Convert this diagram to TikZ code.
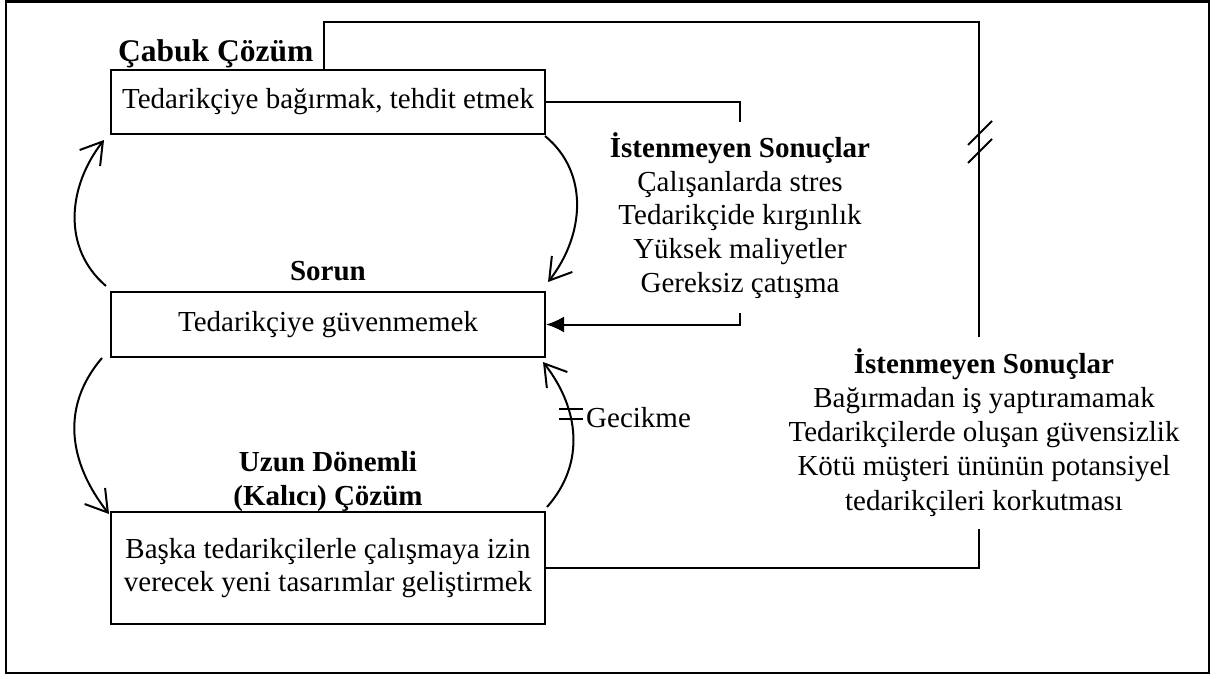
\documentclass[tikz,border=0pt]{standalone}
\usepackage{fontspec}
\setmainfont{Liberation Serif}
\usetikzlibrary{arrows.meta}
\begin{document}
\begin{tikzpicture}[x=1pt,y=-1pt,
  every node/.style={font=\fontsize{29}{33.75}\selectfont, inner sep=0pt},
  box/.style={draw, line width=2pt, minimum width=434pt, align=center},
  ttl/.style={font=\fontsize{29}{33.75}\selectfont\bfseries, anchor=base},
  lst/.style={anchor=base},
  ln/.style={line width=2pt},
  cyc/.style={line width=2pt, -{Straight Barb[length=21pt,width=26pt]}},
  tri/.style={line width=2pt, -{Latex[length=18pt,width=16pt]}}
]
\useasboundingbox (0,0) rectangle (1226,679);
\draw[line width=2.5pt] (6,1.5) rectangle (1209,673);

% boxes
\node[box, minimum height=64pt] (quick) at (328,102) {Tedarikçiye bağırmak, tehdit etmek};
\node[box, minimum height=65pt] (prob) at (328,324.5) {Tedarikçiye güvenmemek};
\node[box, minimum height=112pt] (long) at (328,568) {Başka tedarikçilerle çalışmaya izin\\verecek yeni tasarımlar geliştirmek};

% titles
\node[ttl, anchor=base west, font=\fontsize{31.5}{36}\selectfont\bfseries] (tq) at (118,62) {Çabuk Çözüm};
\node[ttl] (tp) at (328,280) {Sorun};
\node[ttl] (tl1) at (328,471.5) {Uzun Dönemli};
\node[ttl] (tl2) at (328,505) {(Kalıcı) Çözüm};

% middle list
\node[ttl] (m0) at (740,158) {İstenmeyen Sonuçlar};
\node[lst] (m1) at (740,191.5) {Çalışanlarda stres};
\node[lst] (m2) at (740,225) {Tedarikçide kırgınlık};
\node[lst] (m3) at (740,258.5) {Yüksek maliyetler};
\node[lst] (m4) at (740,292) {Gereksiz çatışma};

% right list
\node[ttl] (r0) at (984,373) {İstenmeyen Sonuçlar};
\node[lst] (r1) at (984,407.25) {Bağırmadan iş yaptıramamak};
\node[lst] (r2) at (984,441.5) {Tedarikçilerde oluşan güvensizlik};
\node[lst] (r3) at (984,475.75) {Kötü müşteri ününün potansiyel};
\node[lst] (r4) at (984,510) {tedarikçileri korkutması};

\node[lst, anchor=base west] (gec) at (586,427) {Gecikme};

% connectors to middle list
\coordinate (a1) at (740,122);
\draw[ln] (quick.east) -| (a1);
\coordinate (b1) at (740,313);
\draw[tri] (b1) |- (prob.east);

% long connector to right list
\coordinate (c1) at (979,22);
\coordinate (c2) at (979,337);
\draw[ln] ([xshift=-4pt]quick.north) |- (c1) -- (c2);
\draw[ln] (968,145) -- (992,121) (968,163) -- (992,139);
\coordinate (d1) at (979,529);
\draw[ln] (long.east) -| (d1);

% loops
\draw[cyc] ([shift={(-4,-5)}]prob.north west) .. controls (61.5,248) and (68,186) .. ([shift={(-6,5)}]quick.south west);
\draw[cyc] ([shift={(-1,1)}]quick.south east) .. controls (590,173) and (584,236) .. ([shift={(2,-9)}]prob.north east);
\draw[cyc] ([shift={(-8,0)}]prob.south west) .. controls (60,407) and (69,463) .. ([shift={(-1,3)}]long.north west);
\draw[cyc] ([shift={(1,-4)}]long.north east) .. controls (586,463) and (579,408) .. ([shift={(-3,4)}]prob.south east);

% delay mark
\draw[ln] (559,409) -- (583,409) (559,419) -- (583,419);
\end{tikzpicture}
\end{document}
